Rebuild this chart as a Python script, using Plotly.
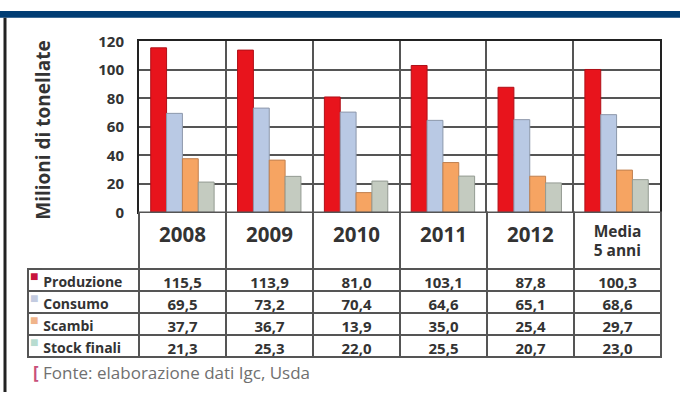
import plotly.graph_objects as go

W, H = 680, 401

categories = ["2008", "2009", "2010", "2011", "2012", "Media 5 anni"]
header_labels = ["2008", "2009", "2010", "2011", "2012", "Media<br>5 anni"]
series_names = ["Produzione", "Consumo", "Scambi", "Stock finali"]
produzione = [115.5, 113.9, 81.0, 103.1, 87.8, 100.3]
consumo = [69.5, 73.2, 70.4, 64.6, 65.1, 68.6]
scambi = [37.7, 36.7, 13.9, 35.0, 25.4, 29.7]
stock_finali = [21.3, 25.3, 22.0, 25.5, 20.7, 23.0]
y_ticks = [0, 20, 40, 60, 80, 100, 120]

series_values = [produzione, consumo, scambi, stock_finali]
bar_colors = ["#e8141c", "#b9c9e4", "#f6a462", "#c4cbc0"]
bar_lines = ["#b01018", "#8d98ab", "#c08050", "#949b92"]
legend_sq = ["#c8143c", "#c3cbe0", "#f0b48a", "#b8dcd0"]

FONT = "Open Sans"
TXT = "#333333"
GRID = "#555555"
CLEAR = "rgba(0,0,0,0)"

fig = go.Figure()
for name, vals, c, lc in zip(series_names, series_values, bar_colors, bar_lines):
    fig.add_trace(go.Bar(x=categories, y=vals, name=name, marker=dict(color=c, line=dict(color=lc, width=1)),
                         showlegend=False, xaxis="x", yaxis="y"))

def px_x(p):
    return p / W

def px_y(p):
    return 1 - p / H

def fmt(v):
    return ("%.1f" % v).replace(".", ",")

TABLE_Y = [px_y(372), px_y(212)]
HEAD_H = 50
ROW_H = 22


def head_text(label):
    # a small leading line centres the single-line years vertically in the header
    if "<br>" in label:
        return "<br>".join("<span style='font-size:15.5px'>%s</span>" % p for p in label.split("<br>"))
    return "<br><span style='font-size:20.5px'>%s</span>" % label


head_vals = [head_text(h) for h in header_labels]
HEAD_SIZES = [11] * (len(header_labels) - 1) + [14]

# plain text (no markup, no breaking spaces) keeps the rows at their fixed height
label_cells = ["\u00a0\u00a0" + n.replace(" ", "\u00a0") for n in series_names]
cols = [label_cells] + [[fmt(series_values[s][i]) for s in range(4)] for i in range(len(categories))]

fig.add_trace(go.Table(
    domain=dict(x=[px_x(28), px_x(661)], y=TABLE_Y),
    columnwidth=[111] + [87] * 6,
    header=dict(values=[""] + head_vals,
                height=HEAD_H, align="center",
                line=dict(color=[CLEAR] + [GRID] * 6, width=2),
                fill=dict(color=[CLEAR] + ["white"] * 6),
                font=dict(family=FONT, size=[11] + HEAD_SIZES, color=TXT, weight="bold")),
    cells=dict(values=cols, height=ROW_H,
               align=["left"] + ["center"] * 6,
               line=dict(color=GRID, width=2),
               fill=dict(color="white"),
               font=dict(family=FONT, size=[14] + [15] * 6, color=TXT, weight="bold")),
))

# legend squares: an overlaid, transparent one-column table aligned with the rows
fig.add_trace(go.Table(
    domain=dict(x=[px_x(22), px_x(42)], y=TABLE_Y),
    header=dict(values=[head_vals[0]], height=HEAD_H, line=dict(color=CLEAR), fill=dict(color=CLEAR),
                font=dict(family=FONT, size=HEAD_SIZES[0], color=CLEAR, weight="bold")),
    cells=dict(values=[["■"] * len(series_names)], height=ROW_H, align="left",
               line=dict(color=CLEAR), fill=dict(color=CLEAR),
               font=dict(family=FONT, size=14, color=[legend_sq])),
))

fig.update_layout(
    width=W, height=H,
    margin=dict(l=0, r=0, t=0, b=0),
    paper_bgcolor="white", plot_bgcolor="white",
    barmode="group", bargap=0.27, bargroupgap=0,
    xaxis=dict(domain=[px_x(139), px_x(660)], type="category", tickson="boundaries",
               showgrid=True, gridcolor=GRID, gridwidth=2, showticklabels=False, ticks="",
               showline=True, linecolor="#222222", linewidth=2, mirror=True),
    yaxis=dict(domain=[px_y(212), px_y(32)], range=[0, 120], tickvals=y_ticks,
               showgrid=True, gridcolor=GRID, gridwidth=2, zeroline=False,
               showline=True, linecolor="#222222", linewidth=2, mirror=True,
               ticks="", ticklabelstandoff=10,
               tickfont=dict(family=FONT, size=15, color=TXT, weight="bold")),
    font=dict(family=FONT),
    shapes=[
        dict(type="rect", xref="paper", yref="paper", x0=0, x1=1, y0=px_y(7), y1=1,
             fillcolor="#013d74", line=dict(width=0), layer="above"),
        dict(type="line", xref="paper", yref="paper", x0=px_x(5), x1=px_x(5), y0=0, y1=px_y(7),
             line=dict(color="#222222", width=3)),
    ],
    annotations=[
        dict(text="<b>Milioni di tonellate</b>", textangle=-90, xref="paper", yref="paper",
             x=px_x(43), y=px_y(126), xanchor="center", yanchor="middle", showarrow=False,
             font=dict(family=FONT, size=19, color=TXT)),
        dict(text="<span style='color:#c8507a'><b>[</b></span> Fonte: elaborazione dati Igc, Usda",
             xref="paper", yref="paper", x=px_x(31), y=px_y(380), xanchor="left", yanchor="middle",
             showarrow=False, font=dict(family=FONT, size=17, color="#707070")),
    ],
)

fig.write_html("out.html")
